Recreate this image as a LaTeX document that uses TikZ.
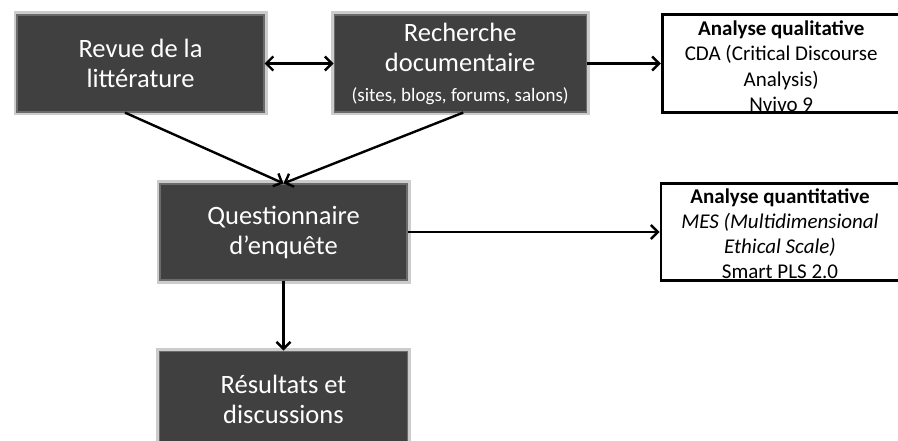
\documentclass[tikz,border=0pt]{standalone}
\usepackage{fontspec}
\setmainfont{Carlito}
\usetikzlibrary{positioning,arrows.meta}

\begin{document}
\begin{tikzpicture}[
    x=1pt, y=1pt,
    darkbox/.style={rectangle, draw=black!58, line width=1.2pt, fill=black!75, text=white, align=center, minimum width=247pt, minimum height=97pt, inner sep=2pt, font=\fontsize{26.5}{30}\selectfont, preaction={draw=black!20, line width=7pt}},
    toolbox/.style={rectangle, draw, line width=2.8pt, fill=white, align=center, minimum width=238pt, minimum height=98pt, inner xsep=1pt, inner ysep=0pt, font=\fontsize{21}{25.5}\selectfont},
    arrow/.style={-{Straight Barb[length=7pt, width=14pt]}, line width=2.4pt},
    biarrow/.style={{Straight Barb[length=7pt, width=14pt]}-{Straight Barb[length=7pt, width=14pt]}, line width=2.4pt}
]

% Page frame
\useasboundingbox (0,0) rectangle (898,-441);

% First row
\node[darkbox] (revue) at (140.5,-63.5) {Revue de la\\littérature};
\node[darkbox, minimum width=252pt, right=69pt of revue] (recherche) {Recherche\\documentaire\\{\fontsize{19}{22}\selectfont (sites, blogs, forums, salons)}};
\node[toolbox, right=74pt of recherche] (qualit) {\rule{0pt}{20pt}\textbf{Analyse qualitative}\\CDA (Critical Discourse\\Analysis)\\Nvivo 9};

% Second row
\node[darkbox, minimum height=96pt] (quest) at (283.5,-232) {Questionnaire\\d’enquête};
\node[toolbox, minimum height=97pt, font=\fontsize{21}{25}\selectfont, right=252pt of quest] (quantit) {\rule{0pt}{18pt}\textbf{Analyse quantitative}\\\textit{MES (Multidimensional}\\\textit{Ethical Scale)}\\Smart PLS 2.0};

% Last row
\node[darkbox, minimum width=248pt, minimum height=96pt, below=70pt of quest] (result) {Résultats et\\discussions};

% Connectors
\draw[biarrow] (revue) -- (recherche);
\draw[arrow] (recherche) -- (qualit);
\draw[arrow] ([xshift=-15.5pt]revue.south) -- (quest.north);
\draw[arrow] ([xshift=3pt]recherche.south) -- (quest.north);
\draw[arrow] (quest) -- (quantit);
\draw[arrow] (quest) -- (result);

\end{tikzpicture}
\end{document}
